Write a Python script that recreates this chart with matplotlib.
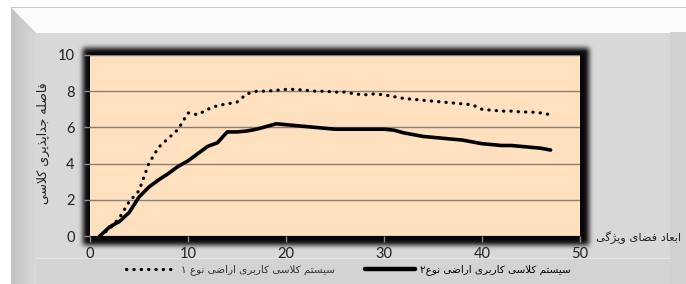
import numpy as np
import matplotlib
matplotlib.use("Agg")
import matplotlib.pyplot as plt

# ---- data ----
dims = list(range(1, 48))
sys1 = [0.0, 0.4, 1.0, 1.9, 2.5, 4.0, 4.9, 5.4, 5.9, 6.8,
        6.7, 7.0, 7.2, 7.3, 7.4, 7.85, 8.0, 8.0, 8.05, 8.1,
        8.1, 8.05, 8.0, 8.0, 7.95, 7.95, 7.85, 7.8, 7.85, 7.8,
        7.7, 7.6, 7.55, 7.5, 7.45, 7.4, 7.35, 7.3, 7.25, 7.0,
        6.95, 6.9, 6.9, 6.85, 6.85, 6.8, 6.7]
sys2 = [0.0, 0.5, 0.8, 1.3, 2.15, 2.7, 3.1, 3.45, 3.85, 4.15,
        4.55, 4.95, 5.15, 5.75, 5.75, 5.8, 5.9, 6.05, 6.2, 6.15,
        6.1, 6.05, 6.0, 5.95, 5.9, 5.9, 5.9, 5.9, 5.9, 5.9,
        5.85, 5.7, 5.6, 5.5, 5.45, 5.4, 5.35, 5.3, 5.2, 5.1,
        5.05, 5.0, 5.0, 4.95, 4.9, 4.85, 4.75]
xticks = [0, 10, 20, 30, 40, 50]
yticks = [0, 2, 4, 6, 8, 10]

xlabel = "ابعاد فضای ویژگی"
ylabel = "فاصله جداپذیری کلاسی"
name1 = "سیستم کلاسی کاربری اراضی نوع ۱"
name2 = "سیستم کلاسی کاربری اراضی نوع۲"

# ---- tiny arabic/persian shaper (matplotlib does no shaping) ----
FORMS = {
    'ا': (0xFE8D, 0xFE8E, None, None),
    'ب': (0xFE8F, 0xFE90, 0xFE91, 0xFE92),
    'پ': (0xFB56, 0xFB57, 0xFB58, 0xFB59),
    'ت': (0xFE95, 0xFE96, 0xFE97, 0xFE98),
    'ج': (0xFE9D, 0xFE9E, 0xFE9F, 0xFEA0),
    'د': (0xFEA9, 0xFEAA, None, None),
    'ذ': (0xFEAB, 0xFEAC, None, None),
    'ر': (0xFEAD, 0xFEAE, None, None),
    'ز': (0xFEAF, 0xFEB0, None, None),
    'ژ': (0xFB8A, 0xFB8B, None, None),
    'س': (0xFEB1, 0xFEB2, 0xFEB3, 0xFEB4),
    'ص': (0xFEB9, 0xFEBA, 0xFEBB, 0xFEBC),
    'ض': (0xFEBD, 0xFEBE, 0xFEBF, 0xFEC0),
    'ع': (0xFEC9, 0xFECA, 0xFECB, 0xFECC),
    'ف': (0xFED1, 0xFED2, 0xFED3, 0xFED4),
    'ک': (0xFB8E, 0xFB8F, 0xFB90, 0xFB91),
    'گ': (0xFB92, 0xFB93, 0xFB94, 0xFB95),
    'ل': (0xFEDD, 0xFEDE, 0xFEDF, 0xFEE0),
    'م': (0xFEE1, 0xFEE2, 0xFEE3, 0xFEE4),
    'ن': (0xFEE5, 0xFEE6, 0xFEE7, 0xFEE8),
    'ه': (0xFEE9, 0xFEEA, 0xFEEB, 0xFEEC),
    'و': (0xFEED, 0xFEEE, None, None),
    'ی': (0xFBFC, 0xFBFD, 0xFBFE, 0xFBFF),
}


def fa(s):
    ch = list(s)
    n = len(ch)
    out = []
    i = 0
    while i < n:
        c = ch[i]
        if c not in FORMS:
            out.append(c)
            i += 1
            continue
        prev = i > 0 and ch[i-1] in FORMS and FORMS[ch[i-1]][2] is not None
        if c == 'ل' and i + 1 < n and ch[i+1] == 'ا':
            out.append(chr(0xFEFC if prev else 0xFEFB))
            i += 2
            continue
        f = FORMS[c]
        nxt = i + 1 < n and ch[i+1] in FORMS and f[2] is not None
        if prev and nxt:
            k = 3
        elif prev:
            k = 1
        elif nxt:
            k = 2
        else:
            k = 0
        out.append(chr(f[k]))
        i += 1
    return ''.join(out)[::-1]


W, H = 686, 284
fig = plt.figure(figsize=(W/100, H/100), dpi=100)

# ---- background: bevelled gray frame + dark glow behind plot area ----
img = np.ones((H, W, 3))
yy, xx = np.mgrid[0:H, 0:W]
frame = (xx >= 11) & (yy >= 7)
img[frame] = 0.83
top = frame & (yy < 32) & (xx - 11 >= yy - 7)
img[top] = 0.99
left = frame & (xx < 36) & ~top
img[left] = (0.76 + 0.09 * (xx[left] - 11) / 25.0)[:, None]
right = frame & (xx >= 670) & (yy >= 32)
img[right] = 0.82
bottom = frame & (yy >= 258) & (xx >= 36) & (xx < 670)
img[bottom] = 0.83
img[(yy == 7) & (xx >= 11)] = 0.78
panel = (xx >= 36) & (xx < 670) & (yy >= 32) & (yy < 258)
img[panel] = 0.85
img[(yy == 32) & (xx >= 36) & (xx < 670)] = 1.0
img[(yy == 258) & (xx >= 36) & (xx < 670)] = 0.9

mask = ((xx >= 83) & (xx < 589) & (yy >= 48) & (yy < 245)).astype(float)
k = np.ones(5) / 5.0
for _ in range(3):
    mask = np.apply_along_axis(lambda r: np.convolve(r, k, mode='same'), 1, mask)
    mask = np.apply_along_axis(lambda r: np.convolve(r, k, mode='same'), 0, mask)
img = img * (1 - 0.97 * mask[:, :, None])

bg = fig.add_axes([0, 0, 1, 1], zorder=0)
bg.imshow(img, extent=[0, W, H, 0], aspect='auto', interpolation='bilinear')
bg.set_axis_off()

# ---- plot area ----
ax = fig.add_axes([90/W, (H-236)/H, 490/W, 181/H], zorder=1)
ax.set_facecolor('#FFE1C0')
ax.plot(dims, sys1, color='black', lw=2.3, ls=(0, (0.1, 2.2)),
        dash_capstyle='round', label=fa(name1), zorder=3)
ax.plot(dims, sys2, color='black', lw=2.6, solid_capstyle='round',
        label=fa(name2), zorder=3)
ax.set_xlim(0, 50)
ax.set_ylim(0, 10)
ax.set_xticks(xticks)
ax.set_yticks(yticks)
ax.yaxis.grid(True, color='#8A7E72', lw=1.0)
ax.set_axisbelow(True)
for s in ax.spines.values():
    s.set_visible(False)
ax.tick_params(axis='both', colors='#8C8C8C', length=4, width=1,
               labelcolor='#222222', labelsize=10.5)
ax.tick_params(axis='y', pad=7)
ax.tick_params(axis='x', pad=4)
for t in ax.get_xticklabels() + ax.get_yticklabels():
    t.set_fontfamily('Lato')

fig.text(681/W, 1 - 238/H, fa(xlabel), fontsize=8.2, family='DejaVu Sans',
         ha='right', va='center', color='#222222')
fig.text(43/W, 1 - 143/H, fa(ylabel), fontsize=9, family='DejaVu Sans',
         rotation=90, ha='center', va='center', color='#222222')

leg = ax.legend(loc='center left', bbox_to_anchor=(126/W, 1 - 270/H),
                bbox_transform=fig.transFigure, ncol=2, frameon=False,
                fontsize=7.5, handlelength=4.8, handletextpad=0.5,
                columnspacing=2.9, borderaxespad=0, borderpad=0)
for t in leg.get_texts():
    t.set_color('#333333')
leg.get_texts()[1].set_color('black')
leg.get_lines()[1].set_linewidth(3.2)

fig.savefig('out.png', dpi=100)
